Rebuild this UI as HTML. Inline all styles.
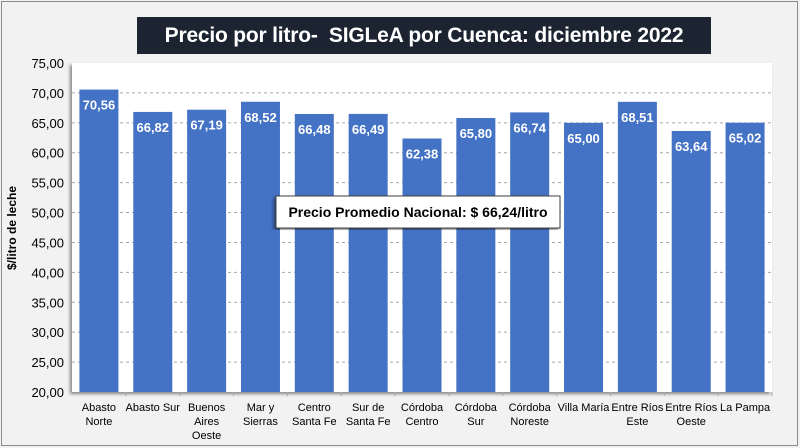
<!DOCTYPE html>
<html><head><meta charset="utf-8"><style>
body{margin:0;width:800px;height:448px;background:#f2f2f2;font-family:"Liberation Sans",sans-serif;overflow:hidden}
#frame{position:absolute;left:1px;top:1px;width:795px;height:443px;border:1px solid #8c8c8c}
#title{position:absolute;left:137px;top:17px;width:574px;height:37px;background:#1c2431;color:#fff;font-weight:bold;font-size:21px;line-height:37px;text-align:center;white-space:nowrap;letter-spacing:-0.2px}
</style></head><body>
<div id="frame"></div>
<div id="title">Precio por litro-&nbsp; SIGLeA por Cuenca: diciembre 2022</div>
<svg id="chart" width="800" height="448" style="position:absolute;left:0;top:0">
<defs><filter id="sh" x="-5%" y="-5%" width="110%" height="110%"><feDropShadow dx="-2" dy="2" stdDeviation="1.5" flood-color="#000" flood-opacity="0.45"/></filter></defs>
<rect x="72" y="63" width="700" height="329" fill="#fff" filter="url(#sh)"/>
<g id="grid"></g><g id="bars"></g><g id="yt"></g><g id="xt"></g>
<text transform="translate(16,228) rotate(-90)" text-anchor="middle" font-size="12" font-weight="bold" fill="#000">$/litro de leche</text>
<rect x="276" y="196" width="284" height="32" fill="#fff" stroke="#404040" stroke-width="1" filter="url(#sh)"/>
<text x="418" y="217" text-anchor="middle" font-size="14" font-weight="bold" fill="#000">Precio Promedio Nacional: $ 66,24/litro</text>
</svg>
<script>
const categories=[["Abasto","Norte"],["Abasto Sur"],["Buenos","Aires","Oeste"],["Mar y","Sierras"],["Centro","Santa Fe"],["Sur de","Santa Fe"],["Córdoba","Centro"],["Córdoba","Sur"],["Córdoba","Noreste"],["Villa María"],["Entre Ríos","Este"],["Entre Ríos","Oeste"],["La Pampa"]];
const values=[70.56,66.82,67.19,68.52,66.48,66.49,62.38,65.80,66.74,65.00,68.51,63.64,65.02];
const yTicks=[20,25,30,35,40,45,50,55,60,65,70,75];
const NS="http://www.w3.org/2000/svg";
const L=72,R=772,T=63,B=392,ymin=20,ymax=75;
const y=v=>B-(v-ymin)/(ymax-ymin)*(B-T);
const band=(R-L)/categories.length;
const x=i=>L+band*i+band/2;
const fmt=v=>v.toFixed(2).replace(".",",");
function mk(tag,attrs,parent){const e=document.createElementNS(NS,tag);for(const k in attrs)e.setAttribute(k,attrs[k]);document.getElementById(parent).appendChild(e);return e;}
yTicks.forEach(t=>{
  if(t>ymin&&t<ymax){const g=mk("line",{x1:L,x2:R,y1:y(t),y2:y(t),stroke:"#a6a6a6","stroke-dasharray":"3,3"},"grid");
  
  }
  const tx=mk("text",{x:L-8,y:y(t)+5,"text-anchor":"end","font-size":"13",fill:"#000"},"yt");
  
  
  tx.textContent=fmt(t);
});
values.forEach((v,i)=>{
  const w=39;
  const r=mk("rect",{x:x(i)-w/2,y:y(v),width:w,height:B-y(v),fill:"#4472c4"},"bars");
  
  
  const lb=mk("text",{x:x(i),y:y(v)+20,"text-anchor":"middle","font-size":"13","font-weight":"bold",fill:"#fff"},"bars");
  
  
  lb.textContent=fmt(v);
  const tk=mk("line",{x1:L+band*(i+1),x2:L+band*(i+1),y1:B,y2:B+4,stroke:"#a6a6a6"},"xt");
  
  
  categories[i].forEach((s,j)=>{
    const c=mk("text",{x:x(i),y:B+19+j*14,"text-anchor":"middle","font-size":"11",fill:"#000"},"xt");
    
    
    c.textContent=s;
  });
});
</script>
</body></html>
